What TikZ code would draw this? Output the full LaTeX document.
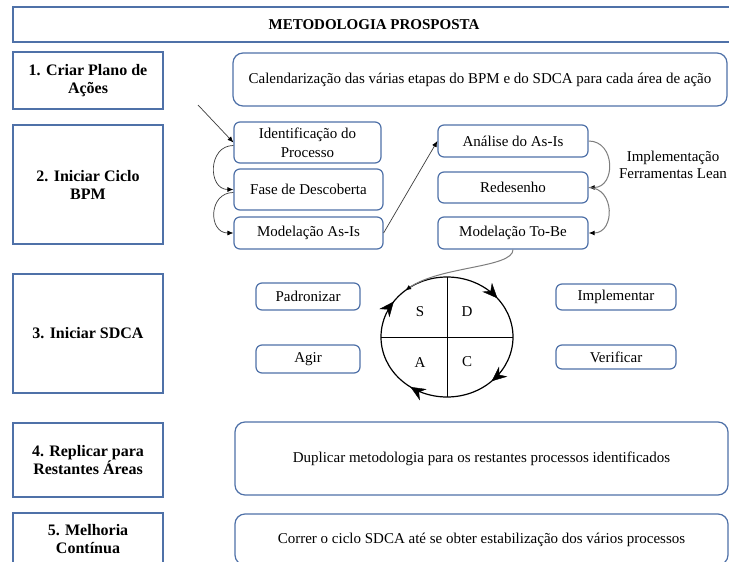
\documentclass[tikz,border=0pt]{standalone}
\usepackage{fontspec}
\setmainfont{Liberation Serif}
\usetikzlibrary{arrows.meta, shapes.geometric, decorations.markings}

\definecolor{boxblue}{RGB}{79,113,168}
\definecolor{linkgray}{RGB}{125,125,125}
\definecolor{linkdark}{RGB}{60,60,60}

\begin{document}
\begin{tikzpicture}[x=1pt, y=1pt,
  stagebox/.style={draw=boxblue, line width=1.2pt, align=center, inner sep=0pt,
    font=\bfseries\fontsize{16}{18}\selectfont},
  titlebox/.style={draw=boxblue, line width=1.2pt, inner sep=0pt,
    font=\bfseries\fontsize{15}{18}\selectfont},
  widebox/.style={draw=boxblue, line width=1.2pt, rounded corners=10pt, align=center,
    inner sep=0pt, font=\fontsize{15}{19}\selectfont},
  taskbox/.style={draw=boxblue, line width=1.2pt, rounded corners=6pt, align=center,
    inner sep=0pt, font=\fontsize{15}{19}\selectfont},
  darklink/.style={draw=linkdark, line width=0.7pt, -{Latex[length=6pt,width=5pt,color=black]}},
  graylink/.style={draw=linkgray, line width=1pt, -{Latex[length=6pt,width=5pt,color=black]}},
  letter/.style={font=\fontsize{15}{18}\selectfont, inner sep=0pt},
  cycline/.style={draw=black, line width=1.2pt},
  cycmarks/.style={postaction={decorate}, decoration={markings,
    mark=at position 0.142 with {\arrow[line width=0.4pt]{Stealth[length=15pt,width=13pt,inset=5pt]}},
    mark=at position 0.378 with {\arrow[line width=0.4pt]{Stealth[length=15pt,width=13pt,inset=5pt]}},
    mark=at position 0.597 with {\arrow[line width=0.4pt]{Stealth[length=15pt,width=13pt,inset=5pt]}},
    mark=at position 0.847 with {\arrow[line width=0.4pt]{Stealth[length=15pt,width=13pt,inset=5pt]}}}}
]
\useasboundingbox (0,0) rectangle (729,-562);
\fill[white] (0,0) rectangle (729,-562);
\clip (0,0) rectangle (729,-562);

% heading
\node[titlebox, minimum width=722pt, minimum height=35pt] (title) at (374,-24.5) {METODOLOGIA PROSPOSTA};

% stages on the left
\node[stagebox, minimum width=150pt, minimum height=57pt] (s1) at (88,-80.5) {1. Criar Plano de\\Ações};
\node[stagebox, minimum width=150pt, minimum height=119pt] (s2) at (88,-184.5) {2. Iniciar Ciclo\\BPM};
\node[stagebox, minimum width=150pt, minimum height=119pt] (s3) at (88,-333.5) {3. Iniciar SDCA};
\node[stagebox, minimum width=150pt, minimum height=74pt] (s4) at (88,-460) {4. Replicar para\\Restantes Áreas};
\node[stagebox, minimum width=150pt, minimum height=53pt] (s5) at (88,-539.5) {5. Melhoria\\Contínua};

% descriptions
\node[widebox, minimum width=494pt, minimum height=53pt] (plan) at (480,-79.5) {Calendarização das várias etapas do BPM e do SDCA para cada área de ação};
\node[widebox, minimum width=493pt, minimum height=73pt] (dup) at (481.5,-458.5) {Duplicar metodologia para os restantes processos identificados};
\node[widebox, minimum width=493pt, minimum height=51pt] (run) at (481.5,-539.5) {Correr o ciclo SDCA até se obter estabilização dos vários processos};

% BPM cycle
\node[taskbox, minimum width=147pt, minimum height=41pt] (iden) at (307.5,-142.5) {Identificação do\\Processo};
\node[taskbox, minimum width=149pt, minimum height=41pt] (fase) at (308.5,-189.5) {Fase de Descoberta};
\node[taskbox, minimum width=149pt, minimum height=32pt] (asis) at (308.5,-233) {Modelação As-Is};
\node[taskbox, minimum width=150pt, minimum height=32pt] (anal) at (513,-141) {Análise do As-Is};
\node[taskbox, minimum width=150pt, minimum height=31pt] (redes) at (513,-187.5) {Redesenho};
\node[taskbox, minimum width=150pt, minimum height=32pt] (tobe) at (513,-233) {Modelação To-Be};
\node[align=center, inner sep=0pt, font=\fontsize{15}{17}\selectfont] (lean) at (673,-165) {Implementação\\Ferramentas Lean};

\coordinate (start) at (198,-105);
\draw[darklink] (start) -- (iden.west);
\draw[darklink] ([yshift=-3pt]iden.west) to[out=180, in=180, looseness=1.5] (fase.west);
\draw[darklink] ([yshift=-3pt]fase.west) to[out=180, in=180, looseness=1.6] (asis.west);
\draw[darklink] (asis.east) -- (anal.west);
\draw[graylink] (anal.east) to[out=0, in=0, looseness=1.5] (redes.east);
\draw[graylink] (redes.east) to[out=0, in=0, looseness=1.5] (tobe.east);

% SDCA cycle
\node[taskbox, minimum width=104pt, minimum height=27pt] (padr) at (308,-296.5) {Padronizar};
\node[taskbox, minimum width=104pt, minimum height=28pt] (agir) at (308,-359) {Agir};
\node[taskbox, minimum width=120pt, minimum height=26pt] (impl) at (616,-297) {Implementar};
\node[taskbox, minimum width=120pt, minimum height=24pt] (verif) at (616,-357) {Verificar};

\node[ellipse, minimum width=132pt, minimum height=120pt, inner sep=0pt, outer sep=0pt] (cyc) at (447,-337) {};
\draw[cycline, cycmarks] (cyc.north) arc[start angle=90, end angle=-270, x radius=66pt, y radius=60pt];
\draw[line width=0.8pt] (cyc.north) -- (cyc.south);
\draw[line width=0.8pt] (cyc.west) -- (cyc.east);
\node[letter] (ls) at (420,-312) {S};
\node[letter] (ld) at (467,-312) {D};
\node[letter] (la) at (420,-363) {A};
\node[letter] (lc) at (467,-362) {C};

\draw[graylink] (tobe.south) .. controls (513,-268) and (440,-266) .. (cyc.132);
\end{tikzpicture}
\end{document}
